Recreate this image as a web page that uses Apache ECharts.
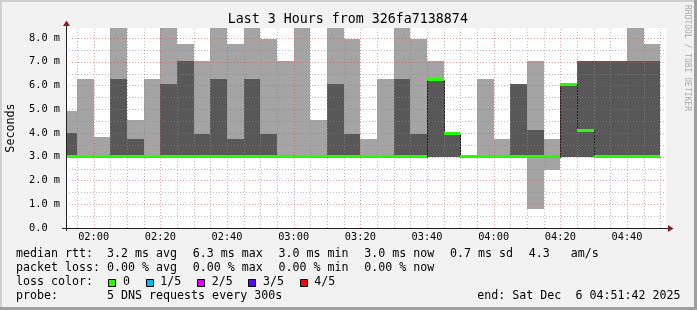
<!DOCTYPE html>
<html><head><meta charset="utf-8">
<script src="https://cdn.jsdelivr.net/npm/echarts@6/dist/echarts.min.js"></script>
<style>html,body{margin:0;padding:0;background:#f2f2f2}#c{width:697px;height:310px}</style>
</head><body><div id="c"></div>
<script>
// ---------------- data ----------------
const titleText = 'Last 3 Hours from 326fa7138874';
const yAxisTitle = 'Seconds';
const watermark = 'RRDTOOL / TOBI OETIKER';
const startTime = '01:51:42';
const endTime = '04:51:42';
const stepMinutes = 5;
const yMax = 8.421;
const binStart = ['01:50','01:55','02:00','02:05','02:10','02:15','02:20','02:25','02:30','02:35','02:40','02:45',
  '02:50','02:55','03:00','03:05','03:10','03:15','03:20','03:25','03:30','03:35','03:40','03:45',
  '03:50','03:55','04:00','04:05','04:10','04:15','04:20','04:25','04:30','04:35','04:40','04:45'];
// sorted pings (ms): lowest, 2nd, 4th, highest; and median
const pingMin = [3,3,3,3,3,3,3,3,3,3,3,3, 3,3,3,3,3,3,3,3,3,3,3,3, 3,3,3,3,0.81,2.43,3,3,3,3,3,3];
const ping2   = [3,3,3,3,3,3,3,3,3,3,3,3, 3,3,3,3,3,3,3,3,3,3,3,3, 3,3,3,3,3,3,3,3,3,3,3,3];
const ping4   = [4.0,3.0,3.0,6.29,3.76,3.0,6.08,7.02,3.97,6.29,3.76,6.29,
  3.97,3.0,3.0,3.0,6.08,3.97,3.0,3.0,6.29,3.97,6.25,3.96,
  3.0,3.0,3.0,6.08,4.11,3.0,6.06,7.02,7.02,7.02,7.02,7.02];
const pingMax = [4.91,6.29,3.82,9.0,4.53,6.29,9.0,7.76,7.02,9.0,7.76,9.0,
  7.97,7.02,9.0,4.53,9.0,7.97,3.76,6.29,9.0,7.97,7.02,3.96,
  3.0,6.29,3.76,6.08,7.02,3.76,6.06,7.02,7.02,7.02,9.0,7.76];
const median  = [3,3,3,3,3,3,3,3,3,3,3,3, 3,3,3,3,3,3,3,3,3,3,6.25,3.96,
  3,3,3,3,3,3,6.06,4.11,3,3,3,3];
const xTickLabels = ['02:00','02:20','02:40','03:00','03:20','03:40','04:00','04:20','04:40'];
const yTickValues = [0,1,2,3,4,5,6,7,8];
const rowLabels = ['median rtt:', 'packet loss:', 'loss color:', 'probe:'];
const rttStats = ['3.2 ms avg','6.3 ms max','3.0 ms min','3.0 ms now','0.7 ms sd','4.3   am/s'];
const lossStats = ['0.00 % avg','0.00 % max','0.00 % min','0.00 % now'];
const lossLabels = ['0','1/5','2/5','3/5','4/5'];
const lossColors = ['#26ff00','#00b8ff','#dd00ff','#5e00ff','#ff0000'];
const probeText = '5 DNS requests every 300s';
const endText = 'end: Sat Dec  6 04:51:42 2025';

// ---------------- helpers ----------------
const MONO = '"DejaVu Sans Mono", monospace';
const toMin = s => { const p = s.split(':').map(Number); return p[0]*60 + p[1] + (p[2]||0)/60; };
const fmtHM = v => { const h = Math.floor(v/60 + 1e-9), m = Math.round(v - h*60);
  return String(h).padStart(2,'0') + ':' + String(m).padStart(2,'0'); };
const X_MIN = toMin(startTime), X_MAX = toMin(endTime);
const GRID = 'rgba(140,140,140,0.6)', MGRID = 'rgba(222,79,79,0.55)';

const smokeData = binStart.map((t,i) => [toMin(t), pingMin[i], ping2[i], ping4[i], pingMax[i]]);
const medData = binStart.map((t,i) => [toMin(t), median[i], i > 0 ? median[i-1] : median[i]]);
const vGrid = [];
for (let m = Math.ceil(X_MIN/stepMinutes)*stepMinutes; m < X_MAX; m += stepMinutes) vGrid.push([m, m % 20 === 0 ? 1 : 0]);
const hGrid = [];
for (let v = 0.5; v < yMax; v += 0.5) hGrid.push([X_MIN, v, Number.isInteger(v) ? 1 : 0]);

function renderSmoke(params, api) {
  const t = api.value(0);
  const xa = Math.round(api.coord([t, 0])[0]);
  const xb = Math.round(api.coord([t + stepMinutes, 0])[0]);
  const y = v => Math.round(api.coord([t, v])[1]);
  const ch = [];
  const l0 = y(api.value(1)), l1 = y(api.value(4));
  if (l0 > l1) ch.push({type:'rect', shape:{x:xa, y:l1, width:xb-xa, height:l0-l1}, style:{fill:'#a4a4a4'}});
  const d0 = y(api.value(2)), d1 = y(api.value(3));
  if (d0 > d1) ch.push({type:'rect', shape:{x:xa, y:d1, width:xb-xa, height:d0-d1}, style:{fill:'#585858'}});
  return {type:'group', children: ch};
}
function renderMedLine(params, api) {
  const t = api.value(0);
  const xa = Math.round(api.coord([t, 0])[0]) + 0.5;
  const xb = Math.round(api.coord([t + stepMinutes, 0])[0]) + 0.5;
  const ym = Math.round(api.coord([t, api.value(1)])[1]) + 0.5;
  const yp = Math.round(api.coord([t, api.value(2)])[1]) + 0.5;
  return {type:'polyline', shape:{points:[[xa, yp],[xa, ym],[xb, ym]]}, style:{stroke:'#202020', lineWidth:1, fill:null}};
}
function renderMedBand(params, api) {
  const t = api.value(0);
  const xa = Math.round(api.coord([t, 0])[0]);
  const xb = Math.round(api.coord([t + stepMinutes, 0])[0]);
  const ym = api.coord([t, api.value(1)])[1];
  return {type:'rect', shape:{x:xa, y:Math.round(ym - 1.5), width:xb-xa, height:3}, style:{fill:lossColors[0]}};
}
function renderVGrid(params, api) {
  const t = api.value(0);
  const x = Math.round(api.coord([t, 0])[0]) + 0.5;
  const y0 = api.coord([t, 0])[1], y1 = api.coord([t, yMax])[1];
  return {type:'line', shape:{x1:x, y1:y0, x2:x, y2:y1}, style:{stroke: api.value(1) ? MGRID : GRID, lineWidth:1, lineDash:[1,2]}};
}
function renderHGrid(params, api) {
  const v = api.value(1);
  const y = Math.round(api.coord([X_MIN, v])[1]) + 0.5;
  const x0 = api.coord([X_MIN, v])[0], x1 = api.coord([X_MAX, v])[0];
  return {type:'line', shape:{x1:x0, y1:y, x2:x1, y2:y}, style:{stroke: api.value(2) ? MGRID : GRID, lineWidth:1, lineDash:[1,2]}};
}

const chart = echarts.init(document.getElementById('c'), null, {renderer:'canvas', width:697, height:310});
chart.setOption({
  animation: false,
  backgroundColor: '#f2f2f2',
  grid: {left: 66, top: 28, width: 600, height: 200, show: true, backgroundColor: '#ffffff', borderWidth: 0},
  xAxis: {
    type: 'value', min: X_MIN, max: X_MAX,
    axisLine: {show: false}, axisTick: {show: false}, splitLine: {show: false},
    axisLabel: {customValues: xTickLabels.map(toMin), formatter: v => fmtHM(v),
      fontFamily: MONO, fontSize: 10.3, color: '#000', margin: 9.6, verticalAlign: 'middle'}
  },
  yAxis: {
    type: 'value', min: 0, max: yMax,
    axisLine: {show: false}, axisTick: {show: false}, splitLine: {show: false},
    axisLabel: {customValues: yTickValues, formatter: v => v === 0 ? '0.0  ' : v.toFixed(1) + ' m',
      fontFamily: MONO, fontSize: 10.3, color: '#000', margin: 6}
  },
  series: [
    {type:'custom', name:'smoke', data: smokeData, renderItem: renderSmoke, clip: true, z: 2, silent: true,
     encode: {x: 0, y: [1,2,3,4]}},
    {type:'custom', name:'median step', data: medData, renderItem: renderMedLine, clip: true, z: 3, silent: true,
     encode: {x: 0, y: [1,2]}},
    {type:'custom', name:'median', data: medData, renderItem: renderMedBand, clip: true, z: 4, silent: true,
     encode: {x: 0, y: 1}},
    {type:'custom', name:'vgrid', data: vGrid, renderItem: renderVGrid, z: 5, silent: true, encode: {x: 0, y: 1}},
    {type:'custom', name:'hgrid', data: hGrid, renderItem: renderHGrid, z: 5, silent: true, encode: {x: 0, y: 1}}
  ]
});

// ---------------- decorations / texts ----------------
const [ox, oy] = chart.convertToPixel({gridIndex: 0}, [X_MIN, 0]);
const [ex, ey] = chart.convertToPixel({gridIndex: 0}, [X_MAX, yMax]);
const AX = '#1f1f1f', ARROW = '#802020';
const LF = 11.65, ADV = LF * 0.602, GAP = 15.6;
const txt = (s, x, base, size, extra) => Object.assign({
  type: 'text', x: x, y: base - 0.346*size, z: 100,
  style: {text: s, font: size + 'px ' + MONO, fill: '#000', textAlign: 'left', align: 'left',
          textVerticalAlign: 'middle', verticalAlign: 'middle'}
}, extra || {});
const g = [];
// frame shades
g.push({type:'rect', shape:{x:0,y:0,width:697,height:2}, style:{fill:'#cfcfcf'}, z: 90});
g.push({type:'rect', shape:{x:0,y:0,width:2,height:310}, style:{fill:'#cfcfcf'}, z: 90});
g.push({type:'rect', shape:{x:694,y:0,width:3,height:310}, style:{fill:'#9e9e9e'}, z: 91});
g.push({type:'rect', shape:{x:0,y:307,width:697,height:3}, style:{fill:'#9e9e9e'}, z: 91});
// axes
g.push({type:'line', shape:{x1:ox-4, y1:oy+0.5, x2:ex+2, y2:oy+0.5}, style:{stroke:AX, lineWidth:1}, z: 95});
g.push({type:'line', shape:{x1:ox+0.5, y1:oy+3, x2:ox+0.5, y2:ey-2}, style:{stroke:AX, lineWidth:1}, z: 95});
g.push({type:'polygon', shape:{points:[[ex+2, oy-3],[ex+2, oy+4],[ex+7.5, oy+0.5]]}, style:{fill:ARROW}, z: 96});
g.push({type:'polygon', shape:{points:[[ox-3, ey-2],[ox+4, ey-2],[ox+0.5, ey-7.5]]}, style:{fill:ARROW}, z: 96});
// title, axis title, watermark
const t1 = txt(titleText, 347.8, 24.3, 13.3);
t1.style.textAlign = 'center'; t1.style.align = 'center';
g.push(t1);
g.push({type:'text', x: 10.5, y: (oy + ey)/2, rotation: Math.PI/2, z: 100,
  style:{text: yAxisTitle, font: '11.7px ' + MONO, fill:'#000', textAlign:'center', align:'center',
         textVerticalAlign:'middle', verticalAlign:'middle'}});
g.push({type:'text', x: 687, y: 5, rotation: -Math.PI/2, z: 100,
  style:{text: watermark, font: '8px ' + MONO, fill:'#ababab', textAlign:'left', align:'left',
         textVerticalAlign:'middle', verticalAlign:'middle'}});
// legend rows
const baselines = [258.3, 272.2, 286.2, 300.0];
const colX = 107;
rowLabels.forEach((s, i) => g.push(txt(s, 16, baselines[i], LF)));
let x = colX;
rttStats.forEach(s => { g.push(txt(s, x, baselines[0], LF)); x += s.length*ADV + GAP; });
x = colX;
lossStats.forEach(s => { g.push(txt(s, x, baselines[1], LF)); x += s.length*ADV + GAP; });
x = colX + 1.3;
lossLabels.forEach((s, i) => {
  g.push({type:'rect', shape:{x: Math.round(x)+0.5, y: 279.5, width: 7, height: 7},
    style:{fill: lossColors[i], stroke:'#000', lineWidth:1}, z: 100});
  g.push(txt(s, x + 14.7, baselines[2], LF));
  x += 14.7 + s.length*ADV + GAP;
});
g.push(txt(probeText, colX, baselines[3], LF));
const te = txt(endText, 680.5, baselines[3], LF);
te.style.textAlign = 'right'; te.style.align = 'right';
g.push(te);
chart.setOption({graphic: g});
</script></body></html>
